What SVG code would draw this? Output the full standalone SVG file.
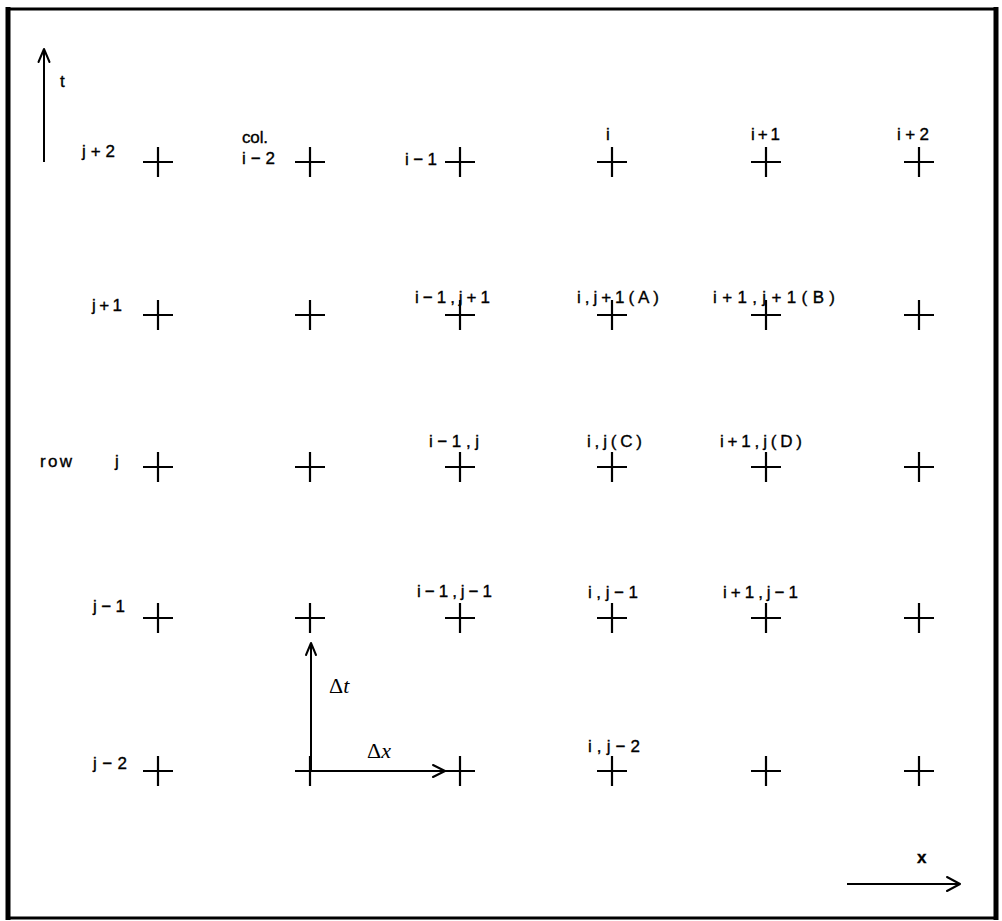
<svg xmlns="http://www.w3.org/2000/svg" width="1002" height="921" viewBox="0 0 1002 921">
<style>
.bg{fill:#fff}
.frame{stroke:#000;fill:none}
.plus{stroke:#000;stroke-width:2.2;fill:none}
.lbl{font-family:"Liberation Sans",Arial,sans-serif;font-size:17px;fill:#000;stroke:#000;stroke-width:0.35}
.math{font-family:"Liberation Serif","Times New Roman",serif;font-size:22px;fill:#000}
.it{font-style:italic}
.ax{stroke:#000;stroke-width:2;fill:none}
.head{stroke:#000;stroke-width:2;fill:none;stroke-linecap:round;stroke-linejoin:round}
</style>
<defs>
<path id="plus" class="plus" d="M-15 0H15M0 -15V15"/>
</defs>
<rect class="bg" x="0" y="0" width="1002" height="921"/>
<g id="frame">
<line class="frame" x1="8" y1="9" x2="996" y2="9" stroke-width="3"/>
<line class="frame" x1="8" y1="7" x2="8" y2="920" stroke-width="5"/>
<line class="frame" x1="996" y1="7" x2="996" y2="920" stroke-width="5"/>
<line class="frame" x1="6" y1="918" x2="998" y2="918" stroke-width="3"/>
</g>
<g id="row-labels">
<text class="lbl" x="82" y="157" textLength="33" lengthAdjust="spacing">j+2</text>
<text class="lbl" x="92" y="311" textLength="30" lengthAdjust="spacing">j+1</text>
<text class="lbl" x="40" y="467" textLength="32" lengthAdjust="spacing">row</text>
<text class="lbl" x="115" y="467">j</text>
<text class="lbl" x="93" y="612" textLength="32" lengthAdjust="spacing">j−1</text>
<text class="lbl" x="93" y="769" textLength="34" lengthAdjust="spacing">j−2</text>
</g>
<g id="col-labels">
<text class="lbl" x="242" y="143" textLength="26" lengthAdjust="spacing">col.</text>
<text class="lbl" x="242" y="164" textLength="33" lengthAdjust="spacing">i−2</text>
<text class="lbl" x="405" y="165" textLength="32" lengthAdjust="spacing">i−1</text>
<text class="lbl" x="606" y="140">i</text>
<text class="lbl" x="751" y="140" textLength="29" lengthAdjust="spacing">i+1</text>
<text class="lbl" x="897" y="140" textLength="32" lengthAdjust="spacing">i+2</text>
</g>
<g id="row-j2">
<use href="#plus" x="158" y="162"/><use href="#plus" x="310" y="162"/><use href="#plus" x="460" y="162"/>
<use href="#plus" x="612" y="162"/><use href="#plus" x="766" y="162"/><use href="#plus" x="919" y="162"/>
</g>
<g id="row-j1">
<use href="#plus" x="158" y="315"/><use href="#plus" x="310" y="315"/>
<g id="n-im1-jp1"><use href="#plus" x="460" y="315"/><text class="lbl" x="415" y="303" textLength="75" lengthAdjust="spacing">i−1,j+1</text></g>
<g id="n-A"><use href="#plus" x="612" y="315"/><text class="lbl" x="577" y="303" textLength="82" lengthAdjust="spacing">i,j+1(A)</text></g>
<g id="n-B"><use href="#plus" x="766" y="315"/><text class="lbl" x="713" y="303" textLength="122" lengthAdjust="spacing">i+1,j+1(B)</text></g>
<use href="#plus" x="919" y="315"/>
</g>
<g id="row-j">
<use href="#plus" x="158" y="467"/><use href="#plus" x="310" y="467"/>
<g id="n-im1-j"><use href="#plus" x="460" y="467"/><text class="lbl" x="429" y="447" textLength="50" lengthAdjust="spacing">i−1,j</text></g>
<g id="n-C"><use href="#plus" x="612" y="467"/><text class="lbl" x="587" y="447" textLength="55" lengthAdjust="spacing">i,j(C)</text></g>
<g id="n-D"><use href="#plus" x="766" y="467"/><text class="lbl" x="720" y="447" textLength="82" lengthAdjust="spacing">i+1,j(D)</text></g>
<use href="#plus" x="919" y="467"/>
</g>
<g id="row-jm1">
<use href="#plus" x="158" y="618"/><use href="#plus" x="310" y="618"/>
<g id="n-im1-jm1"><use href="#plus" x="460" y="618"/><text class="lbl" x="417" y="597" textLength="75" lengthAdjust="spacing">i−1,j−1</text></g>
<g id="n-i-jm1"><use href="#plus" x="612" y="618"/><text class="lbl" x="588" y="598" textLength="50" lengthAdjust="spacing">i,j−1</text></g>
<g id="n-ip1-jm1"><use href="#plus" x="766" y="618"/><text class="lbl" x="723" y="598" textLength="75" lengthAdjust="spacing">i+1,j−1</text></g>
<use href="#plus" x="919" y="618"/>
</g>
<g id="row-jm2">
<use href="#plus" x="158" y="771"/><use href="#plus" x="310" y="771"/><use href="#plus" x="460" y="771"/>
<g id="n-i-jm2"><use href="#plus" x="612" y="771"/><text class="lbl" x="588" y="752" textLength="52" lengthAdjust="spacing">i,j−2</text></g>
<use href="#plus" x="766" y="771"/><use href="#plus" x="919" y="771"/>
</g>
<g id="connectors">
<line class="ax" x1="44" y1="162" x2="44" y2="50"/>
<path class="head" d="M38.5 62L44 49L49.5 62"/>
<line class="ax" x1="311" y1="771" x2="311" y2="644"/>
<path class="head" d="M306 655L311 643L316 655"/>
<line class="ax" x1="311" y1="771" x2="444" y2="771"/>
<path class="head" d="M433 765L445 771L433 777"/>
<line class="ax" x1="847" y1="884" x2="959" y2="884"/>
<path class="head" d="M947 877L960 884L947 891"/>
</g>
<g id="axis-labels">
<text class="lbl" x="60" y="87" font-size="15">t</text>
<text class="lbl" x="917" y="863" font-size="14" font-weight="bold">x</text>
<text class="math" x="329" y="693">Δ<tspan class="it">t</tspan></text>
<text class="math" x="367" y="758">Δ<tspan class="it">x</tspan></text>
</g>
</svg>
